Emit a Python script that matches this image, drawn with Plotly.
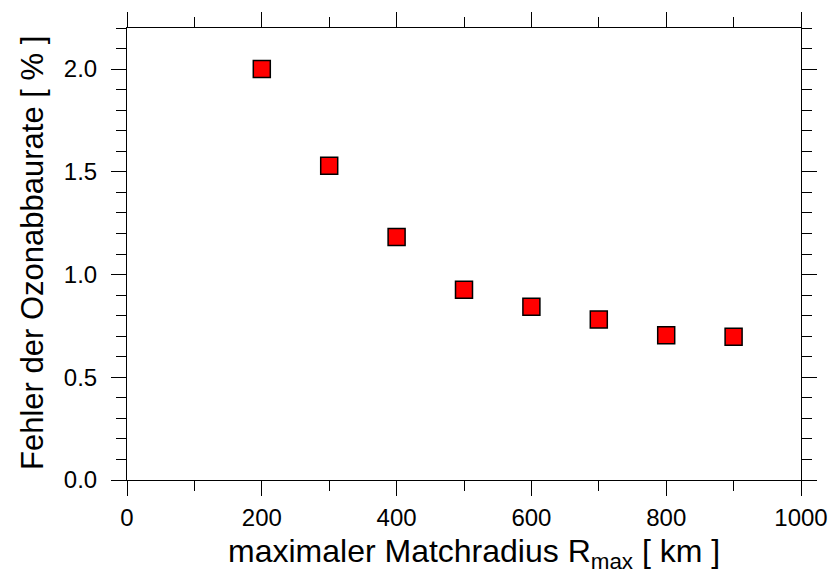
import plotly.graph_objects as go

radius_km = [200, 300, 400, 500, 600, 700, 800, 900]
fehler_pct = [2.00, 1.53, 1.183, 0.926, 0.843, 0.781, 0.705, 0.697]

fig = go.Figure()
fig.add_trace(go.Scatter(
    x=radius_km, y=fehler_pct, mode="markers",
    marker=dict(symbol="square", size=17, color="#ff0000",
                line=dict(color="black", width=1.5)),
    showlegend=False,
))

font = "Liberation Sans, Arial, Helvetica, sans-serif"
axis_common = dict(
    showgrid=False, zeroline=False, showline=True, linecolor="black", linewidth=1,
    mirror="ticks", ticks="outside", ticklen=15, tickwidth=1, tickcolor="black",
    tickfont=dict(family=font, size=24, color="black"),
)
fig.update_xaxes(
    range=[0, 1000], dtick=200, tick0=0, ticklabelstandoff=1,
    minor=dict(dtick=100, ticklen=10, ticks="outside", tickcolor="black", tickwidth=1),
    **axis_common,
)
fig.update_yaxes(
    range=[0, 2.2], dtick=0.5, tick0=0, tickformat=".1f", ticklabelstandoff=9,
    minor=dict(dtick=0.1, ticklen=10, ticks="outside", tickcolor="black", tickwidth=1),
    **axis_common,
)

# plot area in pixels: x 127..808, y 26..480
L, R, T, B = 127, 808, 26, 480
def px_x(p):
    return (p - L) / (R - L)
def px_y(p):
    return (B - p) / (B - T)

fig.add_annotation(
    text="maximaler Matchradius R<sub>max</sub> [ km ]",
    xref="paper", yref="paper", x=px_x(478), y=px_y(531),
    xanchor="center", yanchor="top", showarrow=False,
    font=dict(family=font, size=32, color="black"),
)
fig.add_annotation(
    text="Fehler der Ozonabbaurate [ % ]",
    xref="paper", yref="paper", x=px_x(31), y=px_y(252),
    xanchor="center", yanchor="middle", textangle=-90, showarrow=False,
    font=dict(family=font, size=31, color="black"),
)
fig.update_layout(
    width=840, height=575,
    margin=dict(l=L, r=840 - R, t=T, b=575 - B),
    paper_bgcolor="white", plot_bgcolor="white",
)
fig.write_html("out.html")
